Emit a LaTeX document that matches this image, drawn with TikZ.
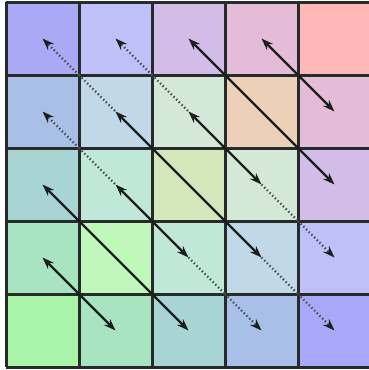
\documentclass[tikz,border=0pt]{standalone}
\usetikzlibrary{arrows.meta}
\definecolor{c00}{HTML}{A9A9F5}
\definecolor{c10}{HTML}{C0C0F8}
\definecolor{c20}{HTML}{D4BCE8}
\definecolor{c30}{HTML}{E4BCD8}
\definecolor{c40}{HTML}{FFB8B8}
\definecolor{c01}{HTML}{A8C0E8}
\definecolor{c11}{HTML}{C0D8E8}
\definecolor{c21}{HTML}{D4E8D8}
\definecolor{c31}{HTML}{ECD0B8}
\definecolor{c41}{HTML}{E4BCD8}
\definecolor{c02}{HTML}{A8D4D4}
\definecolor{c12}{HTML}{C0E8D8}
\definecolor{c22}{HTML}{D4E8BC}
\definecolor{c32}{HTML}{D4E8D8}
\definecolor{c42}{HTML}{D4BCE8}
\definecolor{c03}{HTML}{A8E4C0}
\definecolor{c13}{HTML}{C0F8BC}
\definecolor{c23}{HTML}{C0E8D8}
\definecolor{c33}{HTML}{C0D8E8}
\definecolor{c43}{HTML}{C0C0F8}
\definecolor{c04}{HTML}{A8F4A8}
\definecolor{c14}{HTML}{A8E4C0}
\definecolor{c24}{HTML}{A8D4D4}
\definecolor{c34}{HTML}{A8C0E8}
\definecolor{c44}{HTML}{A8A8F8}
\definecolor{gridcol}{HTML}{262A28}
\definecolor{arrcol}{HTML}{1A1E1C}
\definecolor{dotcol}{HTML}{4A5050}
\begin{document}
\begin{tikzpicture}[x=1pt,y=-1pt,
  gridline/.style={draw=gridcol,line width=3pt},
  solidarrow/.style={draw=arrcol,line width=2.2pt,{Stealth[length=12pt,width=8.5pt]}-{Stealth[length=12pt,width=8.5pt]}},
  dotline/.style={draw=dotcol,line width=2.2pt,dash pattern=on 1.4pt off 2.4pt},
  dotarrow/.style={dotline,-{Stealth[length=12pt,width=8.5pt,color=arrcol]}}]
\useasboundingbox (0,0) rectangle (369,370);
% cells
\foreach \i in {0,...,4}{
  \foreach \j in {0,...,4}{
    \fill[c\i\j] (6+73*\i,2+73*\j) rectangle +(73,73);
  }
}
% coordinates
\foreach \i in {0,...,5}{
  \foreach \j in {0,...,5}{
    \coordinate (v\i\j) at (6+73*\i,2+73*\j);
  }
}
\foreach \i in {0,...,4}{
  \foreach \j in {0,...,4}{
    \coordinate (m\i\j) at (42.5+73*\i,38.5+73*\j);
  }
}
% grid lines
\foreach \k in {0,...,5}{
  \draw[gridline] (v\k0) -- (v\k5);
  \draw[gridline] (v0\k) -- (v5\k);
}
% dotted single arrows
\draw[dotarrow] (v11) -- (m00);
\draw[dotarrow] (v21) -- (m10);
\draw[dotarrow] (v12) -- (m01);
\draw[dotarrow] (v44) -- (m44);
\draw[dotarrow] (v43) -- (m43);
\draw[dotarrow] (v34) -- (m34);
% dotted extensions
\draw[dotline] (v11) -- (m11);
\draw[dotline] (m33) -- (v44);
\draw[dotline] (v21) -- (m21);
\draw[dotline] (m32) -- (v43);
\draw[dotline] (v12) -- (m12);
\draw[dotline] (m23) -- (v34);
% solid double arrows
\draw[solidarrow] (m20) -- (m42);
\draw[solidarrow] (m30) -- (m41);
\draw[solidarrow] (m11) -- (m33);
\draw[solidarrow] (m21) -- (m32);
\draw[solidarrow] (m12) -- (m23);
\draw[solidarrow] (m02) -- (m24);
\draw[solidarrow] (m03) -- (m14);
\end{tikzpicture}
\end{document}
